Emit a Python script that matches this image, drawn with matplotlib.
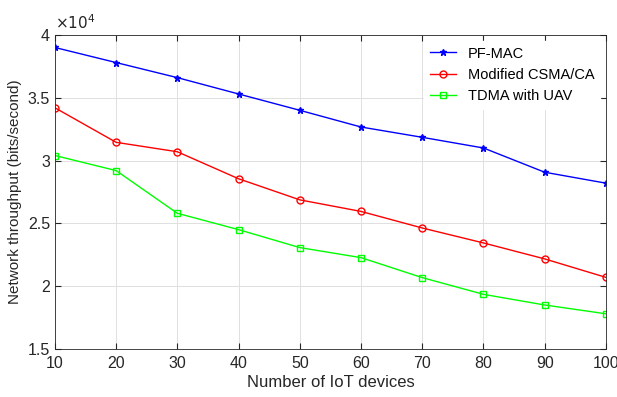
import matplotlib
matplotlib.use("Agg")
import matplotlib.pyplot as plt

devices = [10, 20, 30, 40, 50, 60, 70, 80, 90, 100]
pf_mac = [3.90, 3.78, 3.66, 3.53, 3.40, 3.267, 3.185, 3.10, 2.907, 2.82]
csma = [3.42, 3.145, 3.07, 2.855, 2.687, 2.595, 2.463, 2.344, 2.217, 2.07]
tdma = [3.04, 2.92, 2.58, 2.45, 2.307, 2.227, 2.068, 1.935, 1.85, 1.78]
yticks = [1.5, 2, 2.5, 3, 3.5, 4]
ytick_labels = ["1.5", "2", "2.5", "3", "3.5", "4"]

plt.rcParams['font.family'] = ['Liberation Sans', 'DejaVu Sans']

fig = plt.figure(figsize=(6.17, 3.97), dpi=100)
ax = fig.add_axes([0.089, 0.121, 0.893, 0.791])

ax.plot(devices, pf_mac, color='#0000ff', marker='*', markersize=5, linewidth=1, label='PF-MAC')
ax.plot(devices, csma, color='#ff0000', marker='o', markersize=5, markerfacecolor='none', linewidth=1, label='Modified CSMA/CA')
ax.plot(devices, tdma, color='#00ff00', marker='s', markersize=4, markerfacecolor='none', linewidth=1, label='TDMA with UAV')

ax.set_xlim(10, 100)
ax.set_ylim(1.5, 4)
ax.set_xticks(devices)
ax.set_yticks(yticks)
ax.set_yticklabels(ytick_labels)
ax.tick_params(direction='in', top=True, right=True, labelsize=11.5, colors='#262626', length=4)
ax.tick_params(axis='x', pad=5)
ax.grid(True, color='#e0e0e0', linewidth=0.7)
for s in ax.spines.values():
    s.set_color('#262626')
    s.set_linewidth(0.6)

ax.set_xlabel('Number of IoT devices', fontsize=12, color='#262626', labelpad=3)
ax.set_ylabel('Network throughput (bits/second)', fontsize=11, color='#262626', labelpad=4)
ax.text(0.0, 1.01, r'$\times10^4$', transform=ax.transAxes, fontsize=11, color='#262626', ha='left', va='bottom')

leg = ax.legend(loc='upper right', fontsize=10.5, frameon=True, edgecolor='white', framealpha=1,
                fancybox=False, handlelength=1.8, borderaxespad=0.4)

fig.savefig('out.png', dpi=100)
